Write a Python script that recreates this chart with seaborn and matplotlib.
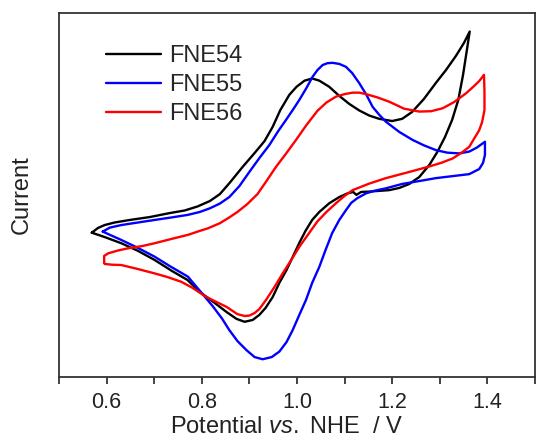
import numpy as np
import pandas as pd
import matplotlib
matplotlib.use("Agg")
import matplotlib.pyplot as plt
import seaborn as sns
from matplotlib.ticker import MultipleLocator

# Cyclic voltammograms (potential in V vs. NHE, current in arbitrary units)
samples = ["FNE54", "FNE55", "FNE56"]
colors = ["#000000", "#0000ff", "#ff0000"]

# FNE54: anodic sweep, then cathodic sweep
fne54_fwd_v = [0.569, 0.582, 0.596, 0.617, 0.649, 0.691, 0.733, 0.764, 0.791, 0.817,
               0.838, 0.858, 0.886, 0.911, 0.932, 0.949, 0.965, 0.984, 0.999, 1.016,
               1.032, 1.047, 1.068, 1.089, 1.110, 1.131, 1.152, 1.173, 1.200, 1.221,
               1.242, 1.267, 1.292, 1.313, 1.334, 1.351, 1.363]
fne54_fwd_i = [39.6, 40.9, 41.7, 42.4, 43.1, 43.9, 45.0, 45.7, 46.8, 48.3,
               50.2, 53.2, 57.7, 61.5, 64.8, 68.7, 73.3, 77.5, 79.7, 81.4,
               82.0, 81.4, 79.7, 77.2, 75.0, 73.2, 71.8, 70.9, 70.3, 70.9,
               72.8, 76.4, 80.8, 84.3, 88.2, 91.8, 94.9]
fne54_rev_v = [1.357, 1.349, 1.339, 1.326, 1.311, 1.295, 1.278, 1.257, 1.236, 1.215,
               1.194, 1.173, 1.152, 1.135, 1.125, 1.118, 1.106, 1.089, 1.068, 1.047,
               1.032, 1.018, 1.005, 0.991, 0.978, 0.963, 0.949, 0.934, 0.921, 0.907,
               0.890, 0.873, 0.852, 0.827, 0.796, 0.770, 0.737, 0.701, 0.666, 0.631,
               0.596, 0.569]
fne54_rev_i = [89.8, 83.0, 76.1, 70.6, 65.9, 61.8, 58.2, 54.9, 53.0, 51.9,
               51.3, 51.1, 50.9, 50.8, 50.0, 50.8, 50.4, 49.4, 47.7, 45.3,
               43.1, 40.1, 36.8, 32.9, 29.3, 25.8, 21.9, 18.9, 17.0, 15.6,
               15.1, 15.9, 17.8, 20.3, 23.3, 26.6, 29.1, 32.1, 34.6, 36.7,
               38.4, 39.6]

# FNE55
fne55_fwd_v = [0.592, 0.607, 0.631, 0.666, 0.701, 0.737, 0.771, 0.796, 0.817, 0.838,
               0.858, 0.879, 0.900, 0.921, 0.942, 0.961, 0.977, 0.991, 1.005, 1.020,
               1.033, 1.043, 1.054, 1.064, 1.075, 1.089, 1.103, 1.116, 1.131, 1.146,
               1.159, 1.173, 1.187, 1.215, 1.243, 1.267, 1.292, 1.316, 1.341, 1.362,
               1.378, 1.395]
fne55_fwd_i = [39.9, 41.0, 41.7, 42.4, 43.1, 43.8, 44.5, 45.3, 46.3, 47.6,
               49.4, 52.4, 56.3, 60.1, 63.7, 67.6, 70.6, 73.3, 76.1, 79.4,
               82.5, 84.3, 85.7, 86.2, 86.3, 86.0, 85.2, 83.5, 80.7, 77.5,
               74.2, 72.0, 70.1, 67.3, 65.1, 63.6, 62.3, 61.6, 61.4, 61.9,
               63.0, 64.6]
fne55_rev_v = [1.395, 1.391, 1.383, 1.362, 1.330, 1.292, 1.257, 1.221, 1.187, 1.162,
               1.145, 1.127, 1.114, 1.103, 1.089, 1.074, 1.060, 1.047, 1.032, 1.019,
               1.005, 0.991, 0.978, 0.963, 0.947, 0.928, 0.911, 0.894, 0.875, 0.858,
               0.842, 0.823, 0.800, 0.771, 0.733, 0.701, 0.666, 0.631, 0.607, 0.592]
fne55_rev_i = [61.0, 58.8, 57.1, 55.7, 55.2, 54.6, 53.8, 53.0, 51.8, 51.1,
               50.4, 49.1, 47.8, 45.8, 43.1, 39.5, 34.8, 30.2, 25.8, 21.1,
               17.0, 12.8, 9.5, 6.9, 5.4, 4.8, 5.4, 7.3, 9.8, 12.8,
               16.1, 19.4, 23.0, 27.5, 30.4, 33.0, 35.4, 37.6, 39.0, 39.9]

# FNE56
fne56_fwd_v = [0.595, 0.595, 0.603, 0.624, 0.645, 0.674, 0.701, 0.737, 0.771, 0.796,
               0.813, 0.838, 0.858, 0.875, 0.896, 0.917, 0.936, 0.956, 0.978, 0.998,
               1.020, 1.043, 1.062, 1.082, 1.100, 1.117, 1.131, 1.145, 1.169, 1.194,
               1.225, 1.257, 1.282, 1.306, 1.330, 1.355, 1.372, 1.383, 1.393]
fne56_fwd_i = [31.3, 33.2, 33.9, 34.7, 35.3, 35.9, 36.7, 37.9, 39.0, 40.1,
               40.8, 42.2, 43.8, 45.3, 47.5, 50.2, 53.8, 57.7, 61.5, 65.1,
               69.2, 73.1, 75.4, 77.0, 77.7, 78.1, 78.1, 77.7, 76.8, 75.6,
               73.7, 72.9, 73.0, 73.8, 75.5, 77.9, 79.9, 81.3, 83.0]
fne56_rev_v = [1.394, 1.394, 1.389, 1.383, 1.372, 1.362, 1.345, 1.327, 1.303, 1.278,
               1.236, 1.187, 1.152, 1.117, 1.100, 1.082, 1.062, 1.043, 1.024, 1.005,
               0.988, 0.970, 0.953, 0.935, 0.921, 0.911, 0.900, 0.890, 0.875, 0.852,
               0.827, 0.806, 0.781, 0.757, 0.728, 0.701, 0.666, 0.631, 0.611, 0.596]
fne56_rev_i = [78.3, 73.3, 70.0, 67.8, 65.4, 63.2, 61.5, 60.0, 58.8, 57.8,
               56.3, 54.6, 53.1, 51.3, 49.7, 47.7, 45.3, 42.7, 39.2, 35.7,
               32.1, 28.4, 24.7, 21.1, 18.6, 17.5, 16.8, 16.7, 17.2, 19.2,
               20.8, 22.2, 24.4, 26.1, 27.4, 28.4, 29.6, 30.7, 30.8, 31.0]

x_ticks = [0.6, 0.8, 1.0, 1.2, 1.4]

scans = {
    "FNE54": (fne54_fwd_v + fne54_rev_v, fne54_fwd_i + fne54_rev_i),
    "FNE55": (fne55_fwd_v + fne55_rev_v, fne55_fwd_i + fne55_rev_i),
    "FNE56": (fne56_fwd_v + fne56_rev_v, fne56_fwd_i + fne56_rev_i),
}
frames = []
for name in samples:
    v, i = scans[name]
    frames.append(pd.DataFrame({"sample": name, "potential": v, "current": i,
                                "step": np.arange(len(v))}))
df = pd.concat(frames, ignore_index=True)

sns.set_style("ticks")
plt.rcParams["font.family"] = ["Liberation Sans", "DejaVu Sans"]
plt.rcParams["mathtext.fontset"] = "custom"
plt.rcParams["mathtext.rm"] = "Liberation Sans"
plt.rcParams["mathtext.it"] = "Liberation Sans:italic"

fig = plt.figure(figsize=(5.36, 4.41), dpi=100)
ax = fig.add_axes([0.110, 0.1458, 0.888, 0.8247])

sns.lineplot(data=df, x="potential", y="current", hue="sample", hue_order=samples,
             palette=colors, sort=False, estimator=None, units="sample",
             linewidth=1.7, ax=ax)

ax.set_xlim(0.5, 1.5)
ax.set_ylim(0, 100)
ax.xaxis.set_minor_locator(MultipleLocator(0.1))
ax.set_xticks(x_ticks)
ax.set_xticklabels([f"{t:.1f}" for t in x_ticks])
ax.set_yticks([])
ax.tick_params(axis="x", which="both", direction="out", length=5, width=1.2,
               labelsize=15.5, pad=6, colors="#222222")
for s in ax.spines.values():
    s.set_visible(True)
    s.set_linewidth(1.3)
    s.set_color("#333333")

ax.set_xlabel("Potential $\\it{vs.}$ NHE  / V", fontsize=17, color="#222222")
ax.xaxis.set_label_coords(0.478, -0.108)
ax.set_ylabel("Current", fontsize=17, labelpad=19, color="#222222")

leg = ax.legend(loc="upper left", bbox_to_anchor=(0.08, 0.938), frameon=False,
                fontsize=17, handlelength=2.3, handletextpad=0.35, labelspacing=0.3,
                borderaxespad=0)
for line in leg.get_lines():
    line.set_linewidth(1.7)

fig.savefig("out.png", dpi=100)
